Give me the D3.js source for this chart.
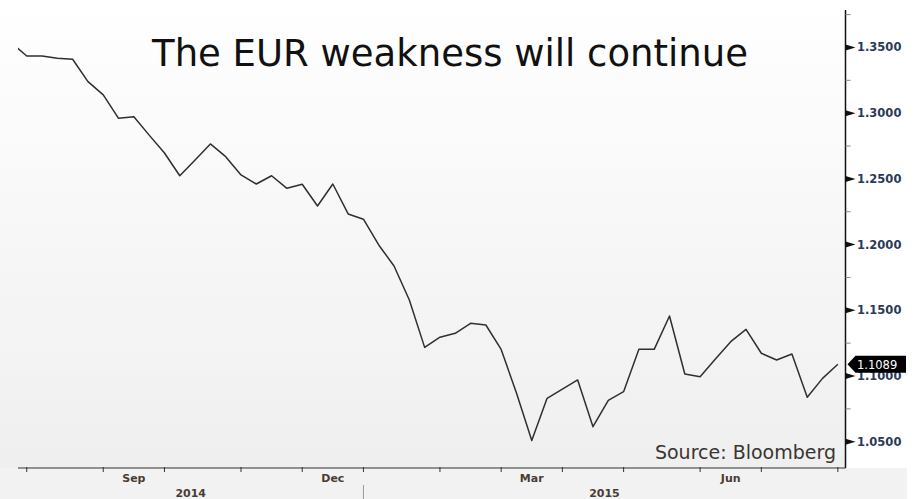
<!DOCTYPE html>
<html>
<head>
<meta charset="utf-8">
<script src="https://cdn.jsdelivr.net/npm/d3@7"></script>
<style>
  body { margin: 0; background: #ffffff; }
  svg { display: block; }
</style>
</head>
<body>
<svg width="921" height="499"></svg>
<script>
//weekly EUR/USD closes
var dates = [
  "2014-07-25","2014-08-01","2014-08-08","2014-08-15","2014-08-22","2014-08-29",
  "2014-09-05","2014-09-12","2014-09-19","2014-09-26","2014-10-03","2014-10-10",
  "2014-10-17","2014-10-24","2014-10-31","2014-11-07","2014-11-14","2014-11-21",
  "2014-11-28","2014-12-05","2014-12-12","2014-12-19","2014-12-26","2015-01-02",
  "2015-01-09","2015-01-16","2015-01-23","2015-01-30","2015-02-06","2015-02-13",
  "2015-02-20","2015-02-27","2015-03-06","2015-03-13","2015-03-20","2015-03-27",
  "2015-04-03","2015-04-10","2015-04-17","2015-04-24","2015-05-01","2015-05-08",
  "2015-05-15","2015-05-22","2015-05-29","2015-06-05","2015-06-12","2015-06-19",
  "2015-06-26","2015-07-03","2015-07-10","2015-07-17","2015-07-24","2015-07-31",
  "2015-08-07"
];

var eurusd = [
  1.3535, 1.3435, 1.3435, 1.3418, 1.3410, 1.3240,
  1.3139, 1.2961, 1.2973, 1.2833, 1.2697, 1.2524,
  1.2644, 1.2766, 1.2669, 1.2530, 1.2461, 1.2524,
  1.2428, 1.2459, 1.2294, 1.2461, 1.2233, 1.2193,
  1.1997, 1.1837, 1.1578, 1.1218, 1.1295, 1.1325,
  1.1401, 1.1388, 1.1202, 1.0871, 1.0509, 1.0830,
  1.0901, 1.0970, 1.0614, 1.0814, 1.0881, 1.1203,
  1.1203, 1.1457, 1.1015, 1.0995, 1.1129, 1.1261,
  1.1355, 1.1173, 1.1122, 1.1167, 1.0838, 1.0982,
  1.1089
];

var yTicks = [1.05, 1.10, 1.15, 1.20, 1.25, 1.30, 1.35];
var yMinor = [1.075, 1.125, 1.175, 1.225, 1.275, 1.325, 1.375];
var monthLabels = ["Sep", "Dec", "Mar", "Jun"];
var yearLabels = ["2014", "2015"];

var title = "The EUR weakness will continue";
var source = "Source: Bloomberg";
var lastLabel = "1.1089";

var svg = d3.select("svg"),
    width = +svg.attr("width"),
    height = +svg.attr("height");

var parse = d3.timeParse("%Y-%m-%d");
var data = dates.map(function(d, i) { return {date: parse(d), value: eurusd[i]}; });

//plot box (don't call these top/left, window.top is read only)
var pLeft = 18, pRight = 845.5, pTop = 10, pBottom = 468;

var x = d3.scaleTime()
    .domain([new Date(2014, 6, 28), new Date(2015, 7, 10, 12)])
    .range([pLeft, pRight]);

var y = d3.scaleLinear()
    .domain([1.03, 1.3785])
    .range([pBottom, pTop]);

//background: gradient plot, grey strip for the date axis
var defs = svg.append("defs");
var grad = defs.append("linearGradient")
    .attr("id", "bg").attr("x1", 0).attr("y1", 0).attr("x2", 0).attr("y2", 1);
grad.append("stop").attr("offset", "0%").attr("stop-color", "#ffffff");
grad.append("stop").attr("offset", "100%").attr("stop-color", "#efefef");

svg.append("rect")
    .attr("x", 0).attr("y", 0)
    .attr("width", pRight).attr("height", pBottom)
    .attr("fill", "url(#bg)");

svg.append("rect")
    .attr("x", 0).attr("y", pBottom)
    .attr("width", 907).attr("height", height - pBottom)
    .attr("fill", "#f2f2f2");

defs.append("clipPath").attr("id", "plot")
  .append("rect")
    .attr("x", pLeft).attr("y", pTop)
    .attr("width", pRight - pLeft).attr("height", pBottom - pTop);

//the series
var line = d3.line()
    .x(function(d) { return x(d.date); })
    .y(function(d) { return y(d.value); });

svg.append("path")
    .datum(data)
    .attr("clip-path", "url(#plot)")
    .attr("fill", "none")
    .attr("stroke", "#2f2f2f")
    .attr("stroke-width", 1.5)
    .attr("stroke-linejoin", "round")
    .attr("d", line);

//title
svg.append("text")
    .attr("x", 450).attr("y", 66)
    .attr("text-anchor", "middle")
    .style("font-family", "DejaVu Sans, Verdana, sans-serif")
    .style("font-size", "37px")
    .style("fill", "#111111")
    .text(title);

//source note
svg.append("text")
    .attr("x", 836).attr("y", 459)
    .attr("text-anchor", "end")
    .style("font-family", "DejaVu Sans, Verdana, sans-serif")
    .style("font-size", "19px")
    .style("fill", "#3a3530")
    .text(source);

//right value axis
var yAxis = svg.append("g").attr("class", "y-axis");

yAxis.append("line")
    .attr("x1", pRight).attr("x2", pRight)
    .attr("y1", pTop).attr("y2", pBottom)
    .attr("stroke", "#111").attr("stroke-width", 1.5);

yAxis.selectAll(".minor")
    .data(yMinor)
    .enter().append("line")
    .attr("class", "minor")
    .attr("x1", pRight).attr("x2", pRight + 5)
    .attr("y1", function(d) { return y(d); })
    .attr("y2", function(d) { return y(d); })
    .attr("stroke", "#888");

yAxis.selectAll(".major")
    .data(yTicks)
    .enter().append("path")
    .attr("class", "major")
    .attr("d", function(d) {
        var yy = y(d);
        return "M" + pRight + "," + (yy - 3) + "L" + (pRight + 10) + "," + yy + "L" + pRight + "," + (yy + 3) + "Z";
    })
    .attr("fill", "#111");

yAxis.selectAll(".lbl")
    .data(yTicks)
    .enter().append("text")
    .attr("class", "lbl")
    .attr("x", 857)
    .attr("y", function(d) { return y(d) + 4; })
    .style("font-family", "DejaVu Sans, Verdana, sans-serif")
    .style("font-size", "11.5px")
    .style("font-weight", "bold")
    .style("fill", "#2a3a58")
    .text(function(d) { return d3.format(".4f")(d); });

//last value marker
var last = data[data.length - 1];
var ly = y(last.value);
svg.append("path")
    .attr("d", "M" + (pRight + 2) + "," + ly + "L" + (pRight + 10) + "," + (ly - 8.5) +
               "L906," + (ly - 8.5) + "L906," + (ly + 8.5) + "L" + (pRight + 10) + "," + (ly + 8.5) + "Z")
    .attr("fill", "#000");
svg.append("text")
    .attr("x", 857).attr("y", ly + 4.5)
    .style("font-family", "DejaVu Sans, Verdana, sans-serif")
    .style("font-size", "11.5px")
    .style("fill", "#ffffff")
    .text(lastLabel);

//date axis: ticks at first week of each month
var monthStarts = data.filter(function(d, i) {
    return i > 0 && d.date.getMonth() !== data[i - 1].date.getMonth();
});

var xAxis = svg.append("g").attr("class", "x-axis");

xAxis.append("line")
    .attr("x1", pLeft).attr("x2", pRight)
    .attr("y1", pBottom).attr("y2", pBottom)
    .attr("stroke", "#333").attr("stroke-width", 1.2);

xAxis.selectAll(".tick")
    .data(monthStarts)
    .enter().append("line")
    .attr("x1", function(d) { return x(d.date); })
    .attr("x2", function(d) { return x(d.date); })
    .attr("y1", pBottom - 1).attr("y2", pBottom + 4)
    .attr("stroke", "#333");

//quarter month names centred in their month
var monthNames = monthLabels.map(function(m) {
    var i = monthStarts.findIndex(function(d) { return d3.timeFormat("%b")(d.date) === m; });
    return {name: m, x0: x(monthStarts[i].date), x1: x(monthStarts[i + 1].date)};
});

xAxis.selectAll(".month")
    .data(monthNames)
    .enter().append("text")
    .attr("class", "month")
    .attr("x", function(d) { return (d.x0 + d.x1) / 2; })
    .attr("y", 482)
    .attr("text-anchor", "middle")
    .style("font-family", "DejaVu Sans, Verdana, sans-serif")
    .style("font-size", "11px")
    .style("font-weight", "bold")
    .style("fill", "#4a3c33")
    .text(function(d) { return d.name; });

//year labels and divider
var yearStart = x(data.find(function(d) { return d.date.getFullYear() === 2015; }).date);
var years = [{name: yearLabels[0], x0: pLeft, x1: yearStart}, {name: yearLabels[1], x0: yearStart, x1: pRight}];

xAxis.selectAll(".year")
    .data(years)
    .enter().append("text")
    .attr("class", "year")
    .attr("x", function(d) { return (d.x0 + d.x1) / 2; })
    .attr("y", 497)
    .attr("text-anchor", "middle")
    .style("font-family", "DejaVu Sans, Verdana, sans-serif")
    .style("font-size", "11px")
    .style("font-weight", "bold")
    .style("fill", "#4a3c33")
    .text(function(d) { return d.name; });

xAxis.append("line")
    .attr("x1", yearStart).attr("x2", yearStart)
    .attr("y1", 485).attr("y2", height)
    .attr("stroke", "#999");
</script>
</body>
</html>
